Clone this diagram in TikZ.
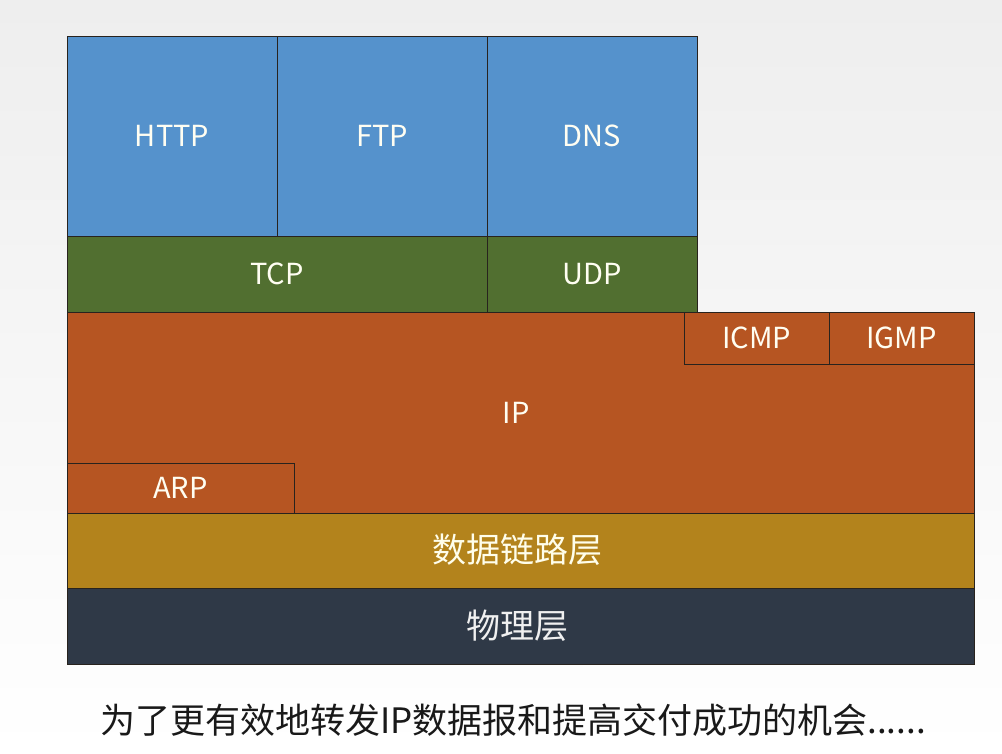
\documentclass[tikz,border=0pt]{standalone}
\usepackage{fontspec}
\setmainfont{Noto Sans CJK SC}
\newfontfamily\cjk{Noto Sans CJK SC}
\definecolor{appblue}{RGB}{85,146,204}
\definecolor{tpgreen}{RGB}{81,111,48}
\definecolor{iporange}{RGB}{182,85,34}
\definecolor{dlgold}{RGB}{179,131,28}
\definecolor{phydark}{RGB}{47,57,71}
\definecolor{edge}{RGB}{40,35,30}
\definecolor{bgtop}{RGB}{238,238,238}
\tikzset{
  layerbox/.style={draw=edge, line width=0.9pt, anchor=north west, inner sep=0pt, outer sep=0pt,
    text=white!95!yellow, font=\fontsize{29}{32}\selectfont},
  cntext/.style={text=white!92!yellow, font=\cjk\fontsize{34}{38}\selectfont}
}
\begin{document}
\begin{tikzpicture}[x=1pt,y=-1pt]
\useasboundingbox (0,0) rectangle (1002,754);
\shade[top color=bgtop, bottom color=white] (0,0) rectangle (1002,754);
% application layer
\node[layerbox, fill=appblue, minimum width=210pt, minimum height=200pt] (http) at (67,36) {HTTP};
\node[layerbox, fill=appblue, minimum width=210pt, minimum height=200pt] (ftp) at (277,36) {FTP};
\node[layerbox, fill=appblue, minimum width=210pt, minimum height=200pt] (dns) at (487,36) {DNS};
% transport
\node[layerbox, fill=tpgreen, minimum width=420pt, minimum height=76pt] (tcp) at (67,236) {TCP};
\node[layerbox, fill=tpgreen, minimum width=210pt, minimum height=76pt] (udp) at (487,236) {UDP};
% network
\node[layerbox, fill=iporange, minimum width=907pt, minimum height=201pt] (ip) at (67,312) {};
\node[text=white!95!yellow, font=\fontsize{29}{32}\selectfont] (iplabel) at (516,413) {IP};
\node[layerbox, fill=iporange, minimum width=145pt, minimum height=52pt] (icmp) at (684,312) {ICMP};
\node[layerbox, fill=iporange, minimum width=145pt, minimum height=52pt] (igmp) at (829,312) {IGMP};
\node[layerbox, fill=iporange, minimum width=227pt, minimum height=50pt] (arp) at (67,463) {ARP};
% data link & physical
\node[layerbox, fill=dlgold, minimum width=907pt, minimum height=75pt] (dl) at (67,513) {};
\node[cntext] (dllabel) at (517,550) {数据链路层};
\node[layerbox, fill=phydark, minimum width=907pt, minimum height=76pt] (phy) at (67,588) {};
\node[cntext, text=white!88!gray] (phylabel) at (517,626) {物理层};
% caption
\node[font=\cjk\fontsize{35}{39}\selectfont, text=black!90] (caption) at (513,720) {为了更有效地转发IP数据报和提高交付成功的机会......};
\end{tikzpicture}
\end{document}
